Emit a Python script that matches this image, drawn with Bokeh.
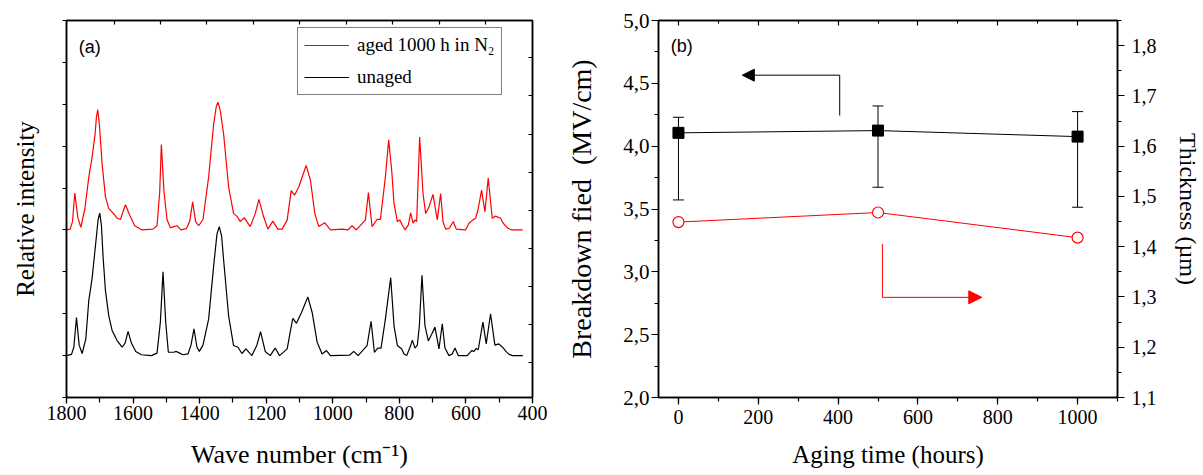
from bokeh.plotting import figure
from bokeh.layouts import row
from bokeh.models import (Range1d, LinearAxis, SingleIntervalTicker, FixedTicker,
                          CustomJSTickFormatter, CustomLabelingPolicy, Whisker, TeeHead,
                          Arrow, NormalHead, Legend, LegendItem, ColumnDataSource, Label)
from bokeh.embed import file_html
from bokeh.resources import INLINE

# ---------------- panel (a): Raman spectra ----------------
wn_unaged = [1800, 1785, 1778, 1770, 1762, 1753, 1742, 1733, 1723, 1712,
             1705, 1700, 1695, 1690, 1683, 1673, 1663, 1648, 1633, 1624,
             1615, 1605, 1592, 1575, 1545, 1528, 1518, 1510, 1502, 1494,
             1478, 1470, 1460, 1450, 1435, 1426, 1417, 1408, 1401, 1390,
             1373, 1358, 1348, 1341, 1334, 1328, 1313, 1298, 1285, 1273,
             1261, 1243, 1228, 1217, 1203, 1188, 1173, 1160, 1137, 1127,
             1120, 1109, 1094, 1075, 1062, 1047, 1032, 1019, 1007, 950,
             937, 924, 897, 885, 875, 865, 855, 842, 826, 816,
             806, 793, 786, 778, 766, 761, 753, 746, 740, 732,
             723, 713, 703, 693, 681, 671, 663, 651, 641, 633,
             623, 596, 583, 576, 569, 563, 549, 539, 526, 513,
             501, 490, 480, 470, 460, 429]
int_unaged = [0, 0.03, 0.2, 0.91, 0.25, 0.05, 0.4, 1.32, 1.85, 2.7,
              3.25, 3.40, 3.1, 2.35, 1.55, 0.95, 0.6, 0.36, 0.2, 0.3,
              0.58, 0.3, 0.1, 0.02, 0.0, 0.06, 0.8, 2.0, 0.8, 0.08,
              0.08, 0.1, 0.06, 0.02, 0.04, 0.25, 0.64, 0.2, 0.1, 0.25,
              0.87, 2.13, 2.9, 3.08, 2.85, 2.29, 0.95, 0.24, 0.2, 0.05,
              0.16, 0.0, 0.25, 0.57, 0.1, 0.0, 0.18, 0.0, 0.16, 0.6,
              0.89, 0.77, 1.03, 1.40, 1.03, 0.32, 0.04, 0.12, 0.0, 0.01,
              0.1, 0.0, 0.24, 0.82, 0.08, 0.18, 0.18, 0.87, 1.86, 0.71,
              0.24, 0.16, 0.04, 0.0, 0.24, 0.37, 0.18, 0.25, 0.7, 1.92,
              0.71, 0.35, 0.51, 0.68, 0.16, 0.76, 0.18, 0.0, 0.04, 0.18,
              0.0, 0.0, 0.12, 0.1, 0.17, 0.14, 0.80, 0.28, 1.0, 0.25,
              0.28, 0.2, 0.1, 0.03, 0.0, 0.0]

wn_aged = [1800, 1789, 1782, 1775, 1766, 1757, 1745, 1733, 1723, 1714,
           1710, 1706, 1701, 1693, 1683, 1673, 1660, 1648, 1638, 1623,
           1610, 1595, 1573, 1540, 1528, 1520, 1515, 1507, 1498, 1488,
           1478, 1468, 1456, 1440, 1430, 1421, 1412, 1403, 1390, 1373,
           1358, 1350, 1345, 1338, 1328, 1313, 1298, 1288, 1278, 1266,
           1248, 1233, 1222, 1208, 1195, 1180, 1165, 1152, 1137, 1125,
           1115, 1102, 1080, 1067, 1054, 1042, 1024, 1007, 972, 955,
           942, 929, 902, 893, 882, 867, 857, 842, 832, 823,
           816, 806, 799, 790, 783, 773, 766, 759, 753, 748,
           739, 729, 721, 711, 699, 686, 676, 669, 661, 650,
           638, 629, 601, 591, 579, 571, 564, 553, 543, 533,
           521, 511, 496, 488, 475, 463, 429]
int_aged = [0, 0.02, 0.2, 0.88, 0.3, 0.06, 0.5, 1.26, 1.74, 2.3,
            2.7, 2.87, 2.5, 1.57, 0.79, 0.51, 0.4, 0.28, 0.25, 0.6,
            0.35, 0.1, 0.0, 0.02, 0.1, 0.9, 2.04, 0.9, 0.25, 0.05,
            0.08, 0.1, 0.0, 0.03, 0.2, 0.67, 0.2, 0.1, 0.25, 1.26,
            2.52, 2.95, 3.05, 2.85, 2.29, 1.03, 0.39, 0.33, 0.2, 0.29,
            0.08, 0.39, 0.73, 0.32, 0.02, 0.21, 0.02, 0.02, 0.24, 0.94,
            0.83, 1.03, 1.54, 1.18, 0.39, 0.08, 0.17, 0.0, 0.02, 0.0,
            0.1, 0.0, 0.24, 0.89, 0.08, 0.25, 0.25, 1.26, 2.15, 1.42,
            0.63, 0.2, 0.24, 0.1, 0.0, 0.12, 0.41, 0.16, 0.24, 0.2,
            2.22, 0.87, 0.39, 0.55, 0.85, 0.24, 0.87, 0.2, 0.02, 0.04,
            0.2, 0.02, 0.0, 0.16, 0.24, 0.28, 0.47, 0.95, 0.43, 1.24,
            0.28, 0.33, 0.28, 0.16, 0.05, 0.0, 0.0]

label_aged = "aged 1000 h in N\u2082"
label_unaged = "unaged"

# ---------------- panel (b): breakdown field / thickness ----------------
hours = [0, 500, 1000]
breakdown = [4.106, 4.124, 4.076]
breakdown_upper = [4.23, 4.32, 4.275]
breakdown_lower = [3.572, 3.673, 3.514]
thickness = [1.449, 1.468, 1.418]

SERIF = "Liberation Serif"
SANS = "Liberation Sans"


def no_labels():
    return CustomLabelingPolicy(code="return [];")


def style_axis(ax, tick_font, title=None, title_size="25px"):
    ax.axis_line_color = "black"
    ax.axis_line_width = 1.5
    ax.major_tick_line_color = "black"
    ax.minor_tick_line_color = "black"
    ax.major_tick_line_width = 1.2
    ax.minor_tick_line_width = 1.2
    ax.major_label_text_font = SERIF
    ax.major_label_text_font_size = tick_font
    ax.major_label_text_color = "black"
    if title is not None:
        ax.axis_label = title
        ax.axis_label_text_font = SERIF
        ax.axis_label_text_font_size = title_size
        ax.axis_label_text_font_style = "normal"
        ax.axis_label_text_color = "black"


def deco_axis(ticker, tick_len=4):
    ax = LinearAxis(ticker=ticker)
    ax.axis_line_color = "black"
    ax.axis_line_width = 1.5
    ax.major_tick_in = tick_len
    ax.major_tick_out = 0
    ax.minor_tick_in = 0
    ax.minor_tick_out = 0
    ax.major_tick_line_width = 1.2
    ax.major_label_text_font_size = "0px"
    ax.major_label_standoff = 0
    ax.major_label_policy = no_labels()
    return ax


# ---------------- figure (a) ----------------
p1 = figure(width=560, height=475, x_range=Range1d(1800, 400), y_range=Range1d(0, 9),
            output_backend="svg", toolbar_location=None,
            min_border_left=66, min_border_right=28, min_border_top=15, min_border_bottom=78)
p1.grid.visible = False
p1.outline_line_color = "black"
p1.outline_line_width = 1.5

r_aged = p1.line(wn_aged, [v + 4 for v in int_aged], line_color="#ff0000", line_width=1.2)
r_unaged = p1.line(wn_unaged, [v + 1 for v in int_unaged], line_color="black", line_width=1.2)

xa = p1.xaxis[0]
xa.ticker = SingleIntervalTicker(interval=200, num_minor_ticks=2)
style_axis(xa, "20px", "Wave number (cm\u207b\u00b9)", "26px")
xa.major_tick_out = 6
xa.major_tick_in = 0
xa.minor_tick_out = 5
xa.minor_tick_in = 0
xa.major_label_standoff = 2
xa.axis_label_standoff = 17

ya = p1.yaxis[0]
ya.ticker = SingleIntervalTicker(interval=1, num_minor_ticks=0)
style_axis(ya, "0px", "Relative intensity", "25px")
ya.major_tick_out = 4
ya.major_tick_in = 0
ya.major_label_standoff = 0
ya.major_label_policy = no_labels()
ya.axis_label_standoff = 24

p1.add_layout(deco_axis(FixedTicker(ticks=[0.83, 1.74, 2.65, 3.56, 4.47, 5.38, 6.29, 7.2, 8.11])), "right")
p1.add_layout(deco_axis(FixedTicker(ticks=[1657, 1518, 1378, 1239, 1099, 959, 820, 680, 541])), "above")

legend = Legend(items=[LegendItem(label=label_aged, renderers=[r_aged]),
                       LegendItem(label=label_unaged, renderers=[r_unaged])],
                location=(231, 302))
legend.label_text_font = SERIF
legend.label_text_font_size = "19px"
legend.label_text_color = "black"
legend.glyph_width = 45
legend.glyph_height = 22
legend.label_height = 22
legend.label_standoff = 8
legend.spacing = 10
legend.padding = 6
legend.margin = 0
legend.border_line_color = "black"
legend.border_line_width = 1.2
legend.background_fill_alpha = 1.0
p1.add_layout(legend)

p1.add_layout(Label(x=1730, y=8.37, text="(a)", text_align="center", text_baseline="middle",
                    text_font=SANS, text_font_size="18px", text_color="black"))

# ---------------- figure (b) ----------------
p2 = figure(width=643, height=475, x_range=Range1d(-50, 1100), y_range=Range1d(2, 5),
            output_backend="svg", toolbar_location=None,
            min_border_left=98, min_border_right=86, min_border_top=20, min_border_bottom=78)
p2.grid.visible = False
p2.outline_line_color = "black"
p2.outline_line_width = 1.5
p2.extra_y_ranges = {"thick": Range1d(1.1, 1.85)}

xb = p2.xaxis[0]
xb.ticker = SingleIntervalTicker(interval=200, num_minor_ticks=2)
style_axis(xb, "20px", "Aging time (hours)", "25px")
xb.major_tick_out = 7
xb.major_tick_in = 0
xb.minor_tick_out = 4
xb.minor_tick_in = 0
xb.major_label_standoff = 5
xb.axis_label_standoff = 14

yb = p2.yaxis[0]
yb.ticker = SingleIntervalTicker(interval=0.5, num_minor_ticks=2)
yb.formatter = CustomJSTickFormatter(code="return tick.toFixed(1).replace('.', ',');")
style_axis(yb, "21px", "Breakdown fied\u00a0\u00a0(MV/cm)", "28px")
yb.major_tick_out = 7
yb.major_tick_in = 0
yb.minor_tick_out = 4
yb.minor_tick_in = 0
yb.major_label_standoff = 2
yb.axis_label_standoff = 23

yr = LinearAxis(y_range_name="thick", ticker=SingleIntervalTicker(interval=0.1, num_minor_ticks=2),
                formatter=CustomJSTickFormatter(code="return tick.toFixed(1).replace('.', ',');"))
style_axis(yr, "20px", "Thickness (\u00b5m)", "24px")
yr.major_tick_out = 7
yr.major_tick_in = 0
yr.minor_tick_out = 4
yr.minor_tick_in = 0
yr.major_label_standoff = 7
yr.axis_label_standoff = 15
p2.add_layout(yr, "right")

top_b = deco_axis(SingleIntervalTicker(interval=200, num_minor_ticks=2), tick_len=5)
top_b.minor_tick_in = 3
top_b.minor_tick_line_color = "black"
p2.add_layout(top_b, "above")

# breakdown field series (left axis)
p2.line(hours, breakdown, line_color="black", line_width=1)
src = ColumnDataSource(dict(x=hours, upper=breakdown_upper, lower=breakdown_lower))
p2.add_layout(Whisker(base="x", upper="upper", lower="lower", source=src,
                      line_color="black", line_width=1,
                      upper_head=TeeHead(size=11, line_color="black", line_width=1),
                      lower_head=TeeHead(size=11, line_color="black", line_width=1)))
p2.scatter(hours, breakdown, marker="square", size=11, fill_color="black", line_color="black")

# thickness series (right axis)
p2.line(hours, thickness, y_range_name="thick", line_color="#ff0000", line_width=1)
p2.scatter(hours, thickness, y_range_name="thick", marker="circle", size=11,
           fill_color="white", line_color="#ff0000", line_width=1.2)

# axis-pointing arrows
p2.line([404, 404], [4.244, 4.565], line_color="black", line_width=1)
p2.add_layout(Arrow(end=NormalHead(size=12, fill_color="black", line_color="black"),
                    x_start=404, y_start=4.565, x_end=160, y_end=4.565,
                    line_color="black", line_width=1))
p2.line([511, 511], [3.222, 2.797], line_color="#ff0000", line_width=1)
p2.add_layout(Arrow(end=NormalHead(size=13, fill_color="#ff0000", line_color="#ff0000"),
                    x_start=511, y_start=2.797, x_end=760, y_end=2.797,
                    line_color="#ff0000", line_width=1))

p2.add_layout(Label(x=8, y=4.80, text="(b)", text_align="center", text_baseline="middle",
                    text_font=SANS, text_font_size="18px", text_color="black"))

layout = row(p1, p2)
open("out.html", "w").write(file_html(layout, INLINE))
